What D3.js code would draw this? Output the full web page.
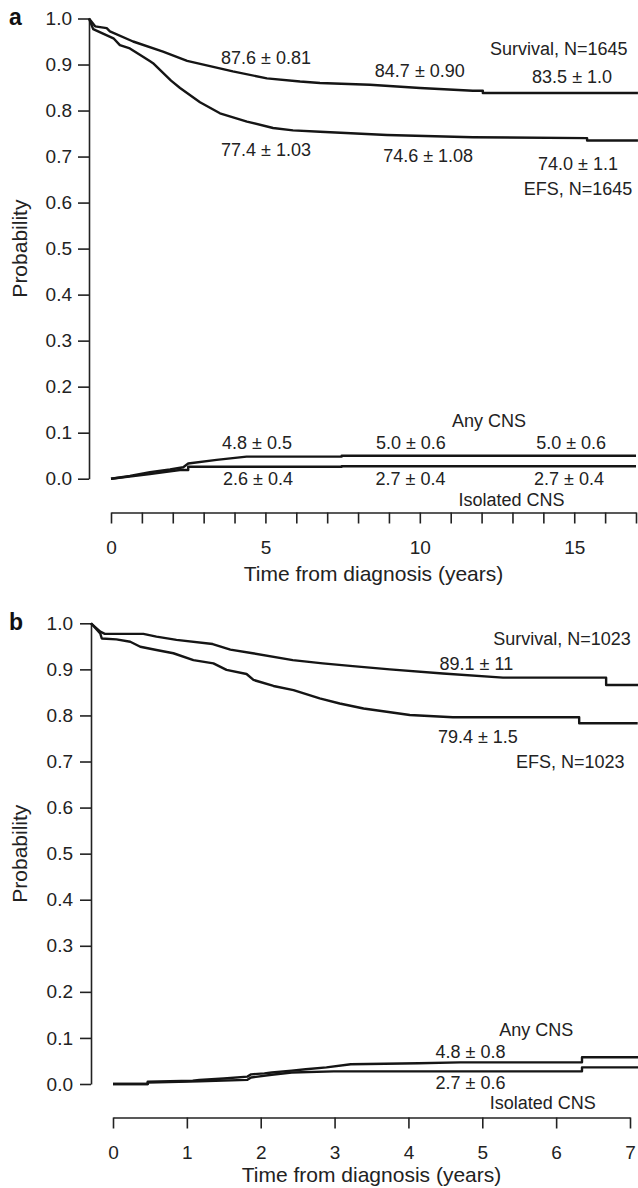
<!DOCTYPE html>
<html>
<head>
<meta charset="utf-8">
<script src="https://cdn.jsdelivr.net/npm/d3@7"></script>
<style>
  body { margin: 0; background: #fff; }
  svg { display: block; font-family: "Liberation Sans", Arial, Helvetica, sans-serif; }
  .tick text { font-size: 19px; fill: #222; }
  .domain, .tick line { stroke: #222; stroke-width: 1.6px; }
  .curve { fill: none; stroke: #151515; stroke-width: 2.4px; stroke-linejoin: round; }
  .note { font-size: 18px; fill: #222; text-anchor: middle; }
  .title { font-size: 21px; fill: #222; text-anchor: middle; }
  .panel { font-size: 23px; font-weight: bold; fill: #111; }
</style>
</head>
<body>
<svg id="chart" width="638" height="1188"></svg>
<script>
// ---------------------------------------------------------------
// DATA - [years, probability]
// ---------------------------------------------------------------

// panel a, up to 17 years
const survivalA = [[0,1.0],[0.19,0.983],[0.55,0.979],[0.65,0.972],[1.37,0.950],[2.30,0.928],[3.05,0.908],
  [4.47,0.885],[5.53,0.870],[6.56,0.863],[7.18,0.860],[8.73,0.856],[10.29,0.849],[11.93,0.843],
  [12.24,0.843],[12.24,0.838],[17.06,0.838]];
const efsA = [[0,1.0],[0.13,0.977],[0.76,0.957],[0.96,0.942],[1.27,0.935],[1.58,0.921],[1.90,0.907],
  [1.99,0.903],[2.55,0.865],[2.83,0.849],[3.45,0.818],[3.76,0.806],[4.07,0.794],[4.91,0.776],
  [5.72,0.762],[6.34,0.757],[7.18,0.754],[9.26,0.747],[11.93,0.742],[15.48,0.740],[15.48,0.735],[17.06,0.735]];
const anyCnsA = [[0,0],[0.61,0.006],[1.26,0.014],[1.91,0.020],[2.34,0.025],[2.50,0.033],[3.42,0.041],
  [4.39,0.048],[7.47,0.048],[7.47,0.050],[17,0.050]];
const isoCnsA = [[0,0],[1.26,0.010],[1.80,0.015],[2.23,0.019],[2.50,0.019],[2.50,0.026],[7.47,0.026],
  [7.47,0.027],[17,0.027]];

// panel b, up to 7 years
const survivalB = [[0,1.0],[0.12,0.982],[0.18,0.977],[0.68,0.977],[0.85,0.971],[1.11,0.964],[1.58,0.955],
  [1.81,0.943],[2.10,0.935],[2.62,0.920],[3.01,0.913],[3.40,0.907],[3.88,0.900],[4.57,0.891],
  [5.35,0.882],[6.69,0.882],[6.69,0.866],[7.11,0.866]];
const efsB = [[0,1.0],[0.12,0.978],[0.14,0.967],[0.33,0.965],[0.51,0.960],[0.64,0.949],[0.85,0.942],
  [1.07,0.935],[1.33,0.920],[1.59,0.913],[1.76,0.899],[2.02,0.890],[2.11,0.877],[2.37,0.864],
  [2.63,0.855],[2.97,0.837],[3.23,0.826],[3.54,0.815],[3.84,0.808],[4.14,0.801],[4.70,0.796],
  [6.34,0.796],[6.34,0.783],[7.10,0.783]];
const anyCnsB = [[0,0],[0.47,0],[0.47,0.005],[1.08,0.007],[1.17,0.009],[1.50,0.012],[1.82,0.016],
  [1.87,0.021],[2.05,0.023],[2.15,0.025],[2.42,0.029],[2.61,0.032],[2.89,0.036],[3.22,0.043],
  [4.14,0.045],[4.70,0.047],[6.35,0.047],[6.35,0.058],[7.11,0.058]];
const isoCnsB = [[0,0],[0.47,0],[0.47,0.003],[1.17,0.006],[1.82,0.009],[1.87,0.014],[2.15,0.020],
  [2.42,0.025],[2.99,0.0275],[6.35,0.0275],[6.35,0.036],[7.11,0.036]];

// tick values
const yTicks = [0, 0.1, 0.2, 0.3, 0.4, 0.5, 0.6, 0.7, 0.8, 0.9, 1.0];
const xTicksA = d3.range(0, 18);
const xLabelsA = [0, 5, 10, 15];
const xTicksB = [0, 1, 2, 3, 4, 5, 6, 7];

// annotations - text placed at [years, probability]
const notesA = [
  ["87.6 ± 0.81", 5.02, 0.915], ["84.7 ± 0.90", 10.0, 0.886], ["83.5 ± 1.0", 14.93, 0.873],
  ["Survival, N=1645", 14.5, 0.934],
  ["77.4 ± 1.03", 5.02, 0.715], ["74.6 ± 1.08", 10.27, 0.701], ["74.0 ± 1.1", 15.12, 0.684],
  ["EFS, N=1645", 15.12, 0.630],
  ["Any CNS", 12.24, 0.127],
  ["4.8 ± 0.5", 4.73, 0.0776], ["5.0 ± 0.6", 9.71, 0.0776], ["5.0 ± 0.6", 14.9, 0.0776],
  ["2.6 ± 0.4", 4.76, -0.001], ["2.7 ± 0.4", 9.70, -0.001], ["2.7 ± 0.4", 14.83, -0.001],
  ["Isolated CNS", 12.97, -0.046]
];
const notesB = [
  ["Survival, N=1023", 6.08, 0.966], ["89.1 ± 11", 4.92, 0.913],
  ["79.4 ± 1.5", 4.94, 0.754], ["EFS, N=1023", 6.19, 0.700],
  ["Any CNS", 5.73, 0.117], ["4.8 ± 0.8", 4.84, 0.070],
  ["2.7 ± 0.6", 4.84, 0.003], ["Isolated CNS", 5.82, -0.041]
];

// ---------------------------------------------------------------
// DRAW
// ---------------------------------------------------------------
const svg = d3.select("#chart");
svg.append("rect").attr("width", 638).attr("height", 1188).attr("fill", "#fff");

function drawPanel(p) {
  const g = svg.append("g");

  const y = d3.scaleLinear().domain([0, 1]).range([p.y0, p.y1]);
  // x axis sits below and to the right of the y axis
  const x = d3.scaleLinear().domain([0, p.xMax]).range([p.xAxisLeft, p.xAxisRight]);
  // the survival / EFS curves in the figure start right at the y axis
  const xKM = d3.scaleLinear().domain([0, p.xMax]).range([p.yAxisX, p.xAxisRight]);

  g.append("g")
    .attr("transform", `translate(${p.yAxisX},0)`)
    .call(d3.axisLeft(y).tickValues(yTicks).tickSize(11).tickSizeOuter(0)
      .tickPadding(p.yPad).tickFormat(d3.format(".1f")));

  g.append("g")
    .attr("transform", `translate(0,${p.xAxisY})`)
    .call(d3.axisBottom(x).tickValues(p.xTicks).tickSize(11).tickSizeOuter(0)
      .tickPadding(17).tickFormat(d => p.xLabels.includes(d) ? d : ""));

  const lineKM = d3.line().x(d => xKM(d[0])).y(d => y(d[1]));
  const lineCns = d3.line().x(d => x(d[0])).y(d => y(d[1]));

  g.selectAll("path.km").data(p.km).join("path").attr("class", "curve km").attr("d", lineKM);
  g.selectAll("path.cns").data(p.cns).join("path").attr("class", "curve cns").attr("d", lineCns);

  g.selectAll("text.note").data(p.notes).join("text")
    .attr("class", "note")
    .attr("x", d => x(d[1]))
    .attr("y", d => y(d[2]))
    .attr("dy", "0.35em")
    .text(d => d[0]);

  g.append("text").attr("class", "title")
    .attr("x", (p.xAxisLeft + p.xAxisRight) / 2).attr("y", p.xAxisY + p.titleGap)
    .text("Time from diagnosis (years)");

  g.append("text").attr("class", "title")
    .attr("transform", `translate(27,${(p.y0 + p.y1) / 2}) rotate(-90)`)
    .text("Probability");

  g.append("text").attr("class", "panel")
    .attr("x", 9).attr("y", p.letterY).text(p.letter);
}

drawPanel({
  letter: "a", letterY: 25,
  y0: 478.7, y1: 18.5, yAxisX: 89, yPad: 6,
  xMax: 17, xAxisLeft: 111, xAxisRight: 636, xAxisY: 512.5, titleGap: 68,
  xTicks: xTicksA, xLabels: xLabelsA,
  km: [survivalA, efsA], cns: [anyCnsA, isoCnsA], notes: notesA
});

drawPanel({
  letter: "b", letterY: 630,
  y0: 1084, y1: 623.3, yAxisX: 91, yPad: 7,
  xMax: 7, xAxisLeft: 113, xAxisRight: 630, xAxisY: 1117.5, titleGap: 64,
  xTicks: xTicksB, xLabels: xTicksB,
  km: [survivalB, efsB], cns: [anyCnsB, isoCnsB], notes: notesB
});
</script>
</body>
</html>
